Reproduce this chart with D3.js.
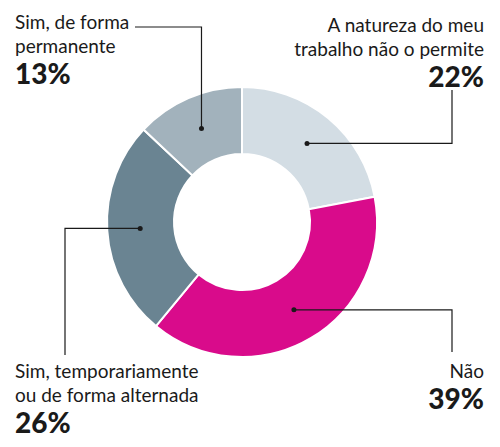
<!DOCTYPE html><html><head><meta charset="utf-8">
<script src="https://cdn.jsdelivr.net/npm/d3@7"></script>
<style>body{margin:0;background:#fff}text{font-family:Lato,sans-serif;fill:#1a1a1a}</style></head><body>
<svg id="c" width="500" height="447"></svg>
<script>
const categories=["A natureza do meu trabalho não o permite","Não","Sim, temporariamente ou de forma alternada","Sim, de forma permanente"];
const values=[22,39,26,13];
const colors=["#d3dde4","#d90b8b","#6a8492","#a2b2bc"];
const svg=d3.select("#c");
const cx=242,cy=222,R=135,r0=68;
const pie=d3.pie().sort(null).value(d=>d)(values);
const arc=d3.arc().innerRadius(r0).outerRadius(R);
const g=svg.append("g").attr("transform",`translate(${cx},${cy})`);
g.selectAll("path").data(pie).join("path").attr("d",arc).attr("fill",(d,i)=>colors[i]).attr("stroke","#fff").attr("stroke-width",2);
const mid=d3.arc().innerRadius(102).outerRadius(102);
const labels=[
 {lines:["A natureza do meu","trabalho não o permite"],x:484,y:32,anchor:"end",path:p=>[[p[0],p[1]],[452,p[1]],[452,90]]},
 {lines:["Não"],x:484,y:378,anchor:"end",path:p=>[[p[0],p[1]],[452,p[1]],[452,352]]},
 {lines:["Sim, temporariamente","ou de forma alternada"],x:15,y:378,anchor:"start",path:p=>[[p[0],p[1]],[65,p[1]],[65,355]]},
 {lines:["Sim, de forma","permanente"],x:15,y:29,anchor:"start",path:p=>[[p[0],p[1]],[p[0],27],[135,27]]}
];
pie.forEach((d,i)=>{
 const c=mid.centroid(d);const p=[c[0]+cx,c[1]+cy];
 const L=labels[i];
 svg.append("path").attr("d",d3.line()(L.path(p))).attr("fill","none").attr("stroke","#1a1a1a").attr("stroke-width",1.2);
 svg.append("circle").attr("cx",p[0]).attr("cy",p[1]).attr("r",2.5).attr("fill","#1a1a1a");
 const t=svg.append("text").attr("text-anchor",L.anchor);
 L.lines.forEach((s,j)=>t.append("tspan").attr("x",L.x).attr("y",L.y+j*24).attr("font-size",19).text(s));
 svg.append("text").attr("text-anchor",L.anchor).attr("x",L.x).attr("y",L.y+(L.lines.length-1)*24+31).attr("font-size",28).attr("font-weight",900).text(values[i]+"%");
});
</script></body></html>
